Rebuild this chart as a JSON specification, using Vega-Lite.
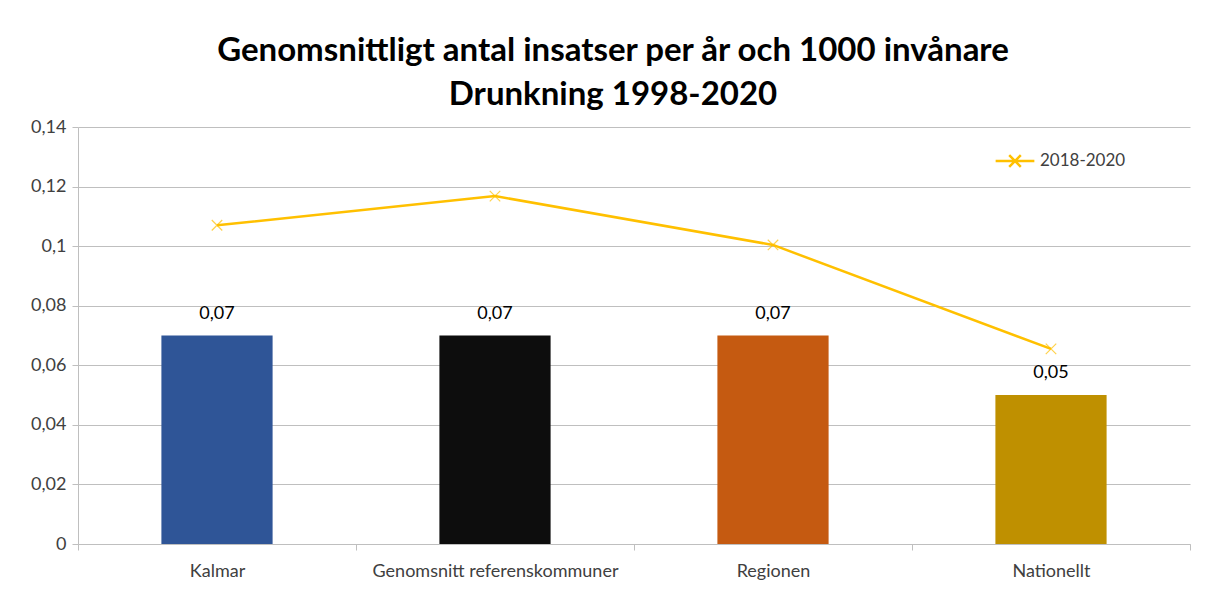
{
  "$schema": "https://vega.github.io/schema/vega-lite/v6.json",
  "width": 1112,
  "height": 417,
  "autosize": "none",
  "padding": {"left": 78, "top": 127, "right": 18, "bottom": 57},
  "background": "white",
  "config": {
    "locale": {"number": {"decimal": ",", "thousands": " ", "grouping": [3], "currency": ["", " kr"]}},
    "view": {"stroke": null},
    "font": "Lato"
  },
  "title": {
    "text": ["Genomsnittligt antal insatser per år och 1000 invånare", "Drunkning 1998-2020"],
    "font": "Lato",
    "fontSize": 33,
    "fontWeight": "bold",
    "color": "#000000",
    "anchor": "middle",
    "frame": "group",
    "dx": -21,
    "offset": 6,
    "lineHeight": 44
  },
  "data": {
    "values": [
      {"Kategori": "Kalmar", "Snitt": 0.07, "Period": 0.107},
      {"Kategori": "Genomsnitt referenskommuner", "Snitt": 0.07, "Period": 0.1168},
      {"Kategori": "Regionen", "Snitt": 0.07, "Period": 0.1004},
      {"Kategori": "Nationellt", "Snitt": 0.05, "Period": 0.0655}
    ]
  },
  "encoding": {
    "x": {
      "field": "Kategori",
      "type": "nominal",
      "sort": null,
      "scale": {"paddingInner": 0, "paddingOuter": 0},
      "axis": {
        "title": null,
        "labelAngle": 0,
        "labelFontSize": 18,
        "labelColor": "#404040",
        "labelPadding": 12,
        "labelLimit": 0,
        "tickBand": "extent",
        "tickSize": 6,
        "tickColor": "#BFBFBF",
        "domainColor": "#BFBFBF",
        "grid": false
      }
    }
  },
  "layer": [
    {
      "mark": {"type": "bar", "width": {"band": 0.4}},
      "encoding": {
        "y": {
          "field": "Snitt",
          "type": "quantitative",
          "scale": {"domain": [0, 0.14], "nice": false},
          "axis": {
            "title": null,
            "values": [0, 0.02, 0.04, 0.06, 0.08, 0.1, 0.12, 0.14],
            "format": ".2~f",
            "labelFontSize": 18,
            "labelColor": "#404040",
            "labelPadding": 6,
            "tickSize": 6,
            "tickColor": "#BFBFBF",
            "domainColor": "#BFBFBF",
            "gridColor": "#BFBFBF",
            "grid": true
          }
        },
        "color": {
          "field": "Kategori",
          "type": "nominal",
          "sort": null,
          "scale": {
            "domain": ["Kalmar", "Genomsnitt referenskommuner", "Regionen", "Nationellt"],
            "range": ["#2F5597", "#0D0D0D", "#C55A11", "#BF9000"]
          },
          "legend": null
        }
      }
    },
    {
      "mark": {"type": "text", "dy": -22, "fontSize": 18, "color": "#000000"},
      "encoding": {
        "y": {"field": "Snitt", "type": "quantitative"},
        "text": {"field": "Snitt", "type": "quantitative", "format": ".2f"}
      }
    },
    {
      "mark": {"type": "line", "strokeWidth": 2.5},
      "encoding": {
        "y": {"field": "Period", "type": "quantitative"},
        "stroke": {
          "datum": "2018-2020",
          "scale": {"range": ["#FFC000"]},
          "legend": {
            "title": null,
            "orient": "none",
            "legendX": 916,
            "legendY": 13,
            "symbolType": "M-1,0H1M-0.3,-0.3L0.3,0.3M-0.3,0.3L0.3,-0.3",
            "symbolSize": 1500,
            "symbolStrokeWidth": 2.5,
            "labelFontSize": 17,
            "labelColor": "#404040",
            "labelFont": "Lato"
          }
        }
      }
    },
    {
      "mark": {"type": "point", "shape": "M-1,-1L1,1M-1,1L1,-1", "size": 110, "stroke": "#FFC000", "strokeWidth": 1.2, "filled": false},
      "encoding": {
        "y": {"field": "Period", "type": "quantitative"}
      }
    }
  ]
}
